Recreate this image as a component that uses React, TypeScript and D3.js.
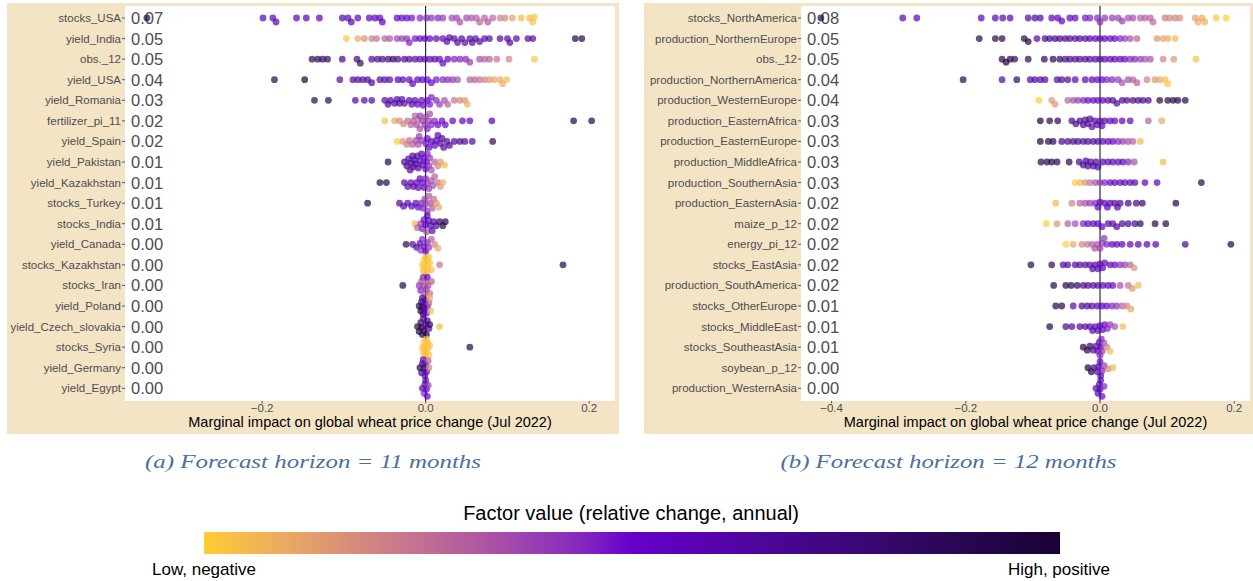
import React from "react";
import * as d3 from "d3";

type Pt = [number, number]; // [marginal impact, factor value 0..1]

const leftFeatures = ["stocks_USA","yield_India","obs._12","yield_USA","yield_Romania","fertilizer_pi_11","yield_Spain","yield_Pakistan","yield_Kazakhstan","stocks_Turkey","stocks_India","yield_Canada","stocks_Kazakhstan","stocks_Iran","yield_Poland","yield_Czech_slovakia","stocks_Syria","yield_Germany","yield_Egypt"];
const leftImportance = ["0.07","0.05","0.05","0.04","0.03","0.02","0.02","0.01","0.01","0.01","0.01","0.00","0.00","0.00","0.00","0.00","0.00","0.00","0.00"];
const leftPoints: Pt[][] = [
  [[-0.341,.92],[-0.199,.57],[-0.187,.59],[-0.183,.59],[-0.158,.57],[-0.146,.57],[-0.130,.58],[-0.102,.58],[-0.095,.61],[-0.091,.62],[-0.083,.58],[-0.069,.55],[-0.062,.55],[-0.056,.55],[-0.053,.54],[-0.035,.52],[-0.029,.5],[-0.023,.5],[-0.017,.48],[-0.007,.45],[0.001,.44],[0.007,.42],[0.015,.44],[0.021,.4],[0.032,.36],[0.038,.38],[0.042,.35],[0.050,.35],[0.056,.33],[0.062,.3],[0.066,.3],[0.072,.3],[0.076,.33],[0.082,.28],[0.091,.2],[0.097,.2],[0.106,.12],[0.117,.05],[0.127,.05],[0.131,.03],[0.133,.02]],
  [[-0.097,.02],[-0.083,.1],[-0.075,.18],[-0.066,.22],[-0.060,.25],[-0.050,.3],[-0.044,.33],[-0.035,.38],[-0.029,.4],[-0.023,.42],[-0.020,.45],[-0.013,.48],[-0.007,.5],[-0.001,.52],[0.005,.53],[0.013,.55],[0.021,.57],[0.026,.6],[0.029,.61],[0.035,.62],[0.039,.63],[0.044,.65],[0.048,.63],[0.054,.61],[0.057,.63],[0.061,.65],[0.066,.62],[0.072,.6],[0.078,.62],[0.091,.6],[0.100,.58],[0.103,.64],[0.111,.6],[0.125,.62],[0.131,.62],[0.183,.92],[0.191,.92]],
  [[-0.139,.85],[-0.132,.92],[-0.126,.85],[-0.120,.85],[-0.102,.7],[-0.084,.7],[-0.080,.85],[-0.066,.65],[-0.059,.7],[-0.053,.7],[-0.046,.7],[-0.040,.85],[-0.034,.7],[-0.026,.65],[-0.020,.63],[-0.013,.62],[-0.007,.6],[-0.001,.58],[0.005,.56],[0.011,.57],[0.017,.54],[0.021,.52],[0.027,.53],[0.035,.46],[0.042,.45],[0.049,.44],[0.054,.4],[0.066,.35],[0.072,.3],[0.078,.3],[0.087,.25],[0.102,.2],[0.133,.02]],
  [[-0.185,.92],[-0.148,.97],[-0.105,.6],[-0.089,.62],[-0.083,.65],[-0.077,.62],[-0.071,.65],[-0.066,.65],[-0.056,.6],[-0.050,.58],[-0.044,.6],[-0.034,.6],[-0.028,.6],[-0.020,.57],[-0.016,.55],[-0.010,.55],[-0.004,.54],[0.002,.5],[0.007,.5],[0.013,.48],[0.021,.45],[0.027,.44],[0.033,.4],[0.039,.35],[0.054,.3],[0.060,.3],[0.066,.25],[0.072,.2],[0.078,.15],[0.084,.1],[0.091,.1],[0.094,.08],[0.099,.05]],
  [[-0.136,.92],[-0.119,.92],[-0.086,.61],[-0.075,.61],[-0.066,.65],[-0.050,.62],[-0.046,.65],[-0.043,.65],[-0.038,.65],[-0.035,.64],[-0.032,.62],[-0.029,.61],[-0.026,.62],[-0.020,.6],[-0.017,.59],[-0.013,.57],[-0.010,.55],[-0.005,.55],[-0.003,.54],[0.002,.5],[0.005,.48],[0.007,.46],[0.013,.44],[0.017,.4],[0.023,.35],[0.027,.3],[0.035,.25],[0.042,.2],[0.048,.15],[0.051,.08]],
  [[-0.050,.03],[-0.038,.1],[-0.032,.18],[-0.027,.2],[-0.022,.25],[-0.018,.3],[-0.015,.3],[-0.013,.3],[-0.011,.35],[-0.010,.25],[-0.007,.4],[-0.007,.35],[-0.004,.4],[-0.001,.4],[0.000,.35],[0.002,.45],[0.004,.4],[0.005,.35],[0.007,.45],[0.011,.45],[0.015,.5],[0.020,.5],[0.024,.5],[0.033,.55],[0.045,.55],[0.054,.55],[0.081,.61],[0.181,.92],[0.203,.92]],
  [[-0.035,.0],[-0.028,.15],[-0.023,.2],[-0.020,.25],[-0.016,.3],[-0.012,.35],[-0.009,.35],[-0.008,.4],[-0.005,.4],[0.000,.45],[0.002,.5],[0.004,.5],[0.007,.55],[0.011,.57],[0.013,.6],[0.015,.6],[0.018,.62],[0.020,.64],[0.022,.62],[0.026,.65],[0.029,.65],[0.035,.65],[0.042,.7],[0.048,.65],[0.057,.62],[0.082,.85]],
  [[-0.046,.92],[-0.026,.65],[-0.023,.7],[-0.021,.62],[-0.019,.65],[-0.018,.7],[-0.016,.65],[-0.015,.62],[-0.014,.64],[-0.012,.6],[-0.010,.6],[-0.009,.61],[-0.007,.57],[-0.005,.55],[-0.004,.55],[-0.002,.54],[0.000,.5],[0.001,.5],[0.002,.45],[0.004,.42],[0.005,.4],[0.007,.35],[0.011,.3],[0.015,.2],[0.018,.15],[0.023,.05]],
  [[-0.056,.92],[-0.048,.92],[-0.026,.6],[-0.022,.62],[-0.018,.6],[-0.015,.57],[-0.011,.55],[-0.009,.55],[-0.007,.55],[-0.004,.5],[-0.002,.5],[0.000,.45],[0.002,.42],[0.004,.4],[0.007,.35],[0.009,.35],[0.011,.3],[0.015,.25],[0.018,.15],[0.021,.08]],
  [[-0.071,.92],[-0.032,.65],[-0.027,.62],[-0.022,.57],[-0.017,.55],[-0.012,.55],[-0.009,.5],[-0.005,.45],[-0.003,.45],[-0.001,.4],[0.000,.38],[0.002,.4],[0.004,.32],[0.006,.35],[0.008,.3],[0.010,.25],[0.013,.15],[0.016,.1]],
  [[-0.013,.05],[-0.010,.3],[-0.006,.4],[-0.004,.45],[-0.002,.5],[0.000,.55],[0.001,.35],[0.002,.55],[0.004,.57],[0.006,.6],[0.008,.62],[0.010,.62],[0.013,.65],[0.017,.85],[0.021,.92],[0.024,.92]],
  [[-0.024,.92],[-0.016,.62],[-0.011,.65],[-0.007,.55],[-0.006,.4],[-0.004,.45],[-0.002,.5],[0.000,.5],[0.002,.45],[0.004,.4],[0.007,.3],[0.011,.2],[0.015,.1]],
  [[-0.004,.02],[-0.003,.02],[-0.002,.02],[-0.001,.02],[0.000,.02],[0.001,.02],[0.002,.02],[0.003,.02],[0.004,.02],[0.005,.02],[-0.002,.03],[0.002,.03],[0.000,.03],[0.007,.05],[0.017,.25],[0.168,.92]],
  [[-0.028,.92],[-0.008,.4],[-0.006,.45],[-0.005,.35],[-0.003,.45],[-0.002,.38],[-0.001,.3],[0.000,.2],[0.001,.4],[0.002,.5],[0.003,.35],[0.005,.25],[0.007,.3]],
  [[-0.008,.92],[-0.006,.97],[-0.005,.85],[-0.004,.7],[-0.004,.92],[-0.003,.85],[-0.002,.65],[-0.001,.6],[0.000,.62],[0.001,.5],[0.002,.55],[0.004,.3],[0.005,.1],[0.006,.05]],
  [[-0.010,.92],[-0.008,.97],[-0.006,.85],[-0.005,.97],[-0.004,.92],[-0.003,.7],[-0.002,.85],[0.000,.65],[0.001,.92],[0.002,.7],[0.004,.62],[0.005,.85],[0.017,.05]],
  [[-0.004,.02],[-0.003,.02],[-0.002,.02],[-0.001,.02],[-0.001,.03],[0.000,.02],[0.001,.02],[0.001,.03],[0.002,.02],[0.003,.02],[0.004,.02],[0.005,.02],[0.054,.92]],
  [[-0.007,.92],[-0.005,.7],[-0.004,.65],[-0.003,.6],[-0.002,.85],[-0.001,.5],[0.000,.62],[0.001,.55],[0.003,.3],[0.004,.2]],
  [[-0.004,.55],[-0.002,.45],[-0.001,.62],[0.000,.6],[0.001,.53],[0.002,.5],[0.003,.4]],
];

const rightFeatures = ["stocks_NorthAmerica","production_NorthernEurope","obs._12","production_NorthernAmerica","production_WesternEurope","production_EasternAfrica","production_EasternEurope","production_MiddleAfrica","production_SouthernAsia","production_EasternAsia","maize_p_12","energy_pi_12","stocks_EastAsia","production_SouthAmerica","stocks_OtherEurope","stocks_MiddleEast","stocks_SoutheastAsia","soybean_p_12","production_WesternAsia"];
const rightImportance = ["0.08","0.05","0.05","0.04","0.04","0.03","0.03","0.03","0.03","0.02","0.02","0.02","0.02","0.02","0.01","0.01","0.01","0.00","0.00"];
const rightPoints: Pt[][] = [
  [[-0.416,.92],[-0.294,.59],[-0.273,.59],[-0.177,.58],[-0.156,.58],[-0.145,.59],[-0.134,.59],[-0.107,.6],[-0.097,.62],[-0.089,.6],[-0.072,.56],[-0.063,.55],[-0.057,.55],[-0.045,.54],[-0.037,.52],[-0.022,.48],[-0.015,.46],[-0.004,.44],[0.000,.44],[0.007,.42],[0.018,.4],[0.027,.38],[0.033,.4],[0.042,.35],[0.049,.35],[0.060,.3],[0.067,.3],[0.075,.3],[0.079,.28],[0.097,.22],[0.104,.2],[0.112,.2],[0.119,.18],[0.142,.12],[0.146,.1],[0.152,.1],[0.156,.08],[0.173,.02],[0.188,0]],
  [[-0.180,.92],[-0.156,.92],[-0.146,.92],[-0.113,.92],[-0.107,.97],[-0.094,.61],[-0.082,.7],[-0.075,.7],[-0.067,.7],[-0.060,.7],[-0.052,.7],[-0.045,.66],[-0.037,.65],[-0.030,.63],[-0.022,.62],[-0.015,.6],[-0.007,.57],[0.000,.55],[0.007,.55],[0.015,.5],[0.022,.5],[0.030,.45],[0.037,.4],[0.045,.35],[0.055,.3],[0.085,.15],[0.094,.12],[0.101,.1],[0.112,.05]],
  [[-0.146,.92],[-0.140,.97],[-0.134,.92],[-0.127,.85],[-0.107,.85],[-0.083,.85],[-0.070,.92],[-0.060,.85],[-0.052,.7],[-0.045,.7],[-0.037,.65],[-0.030,.65],[-0.022,.65],[-0.015,.63],[-0.007,.62],[0.000,.62],[0.007,.6],[0.015,.57],[0.022,.55],[0.030,.55],[0.037,.5],[0.045,.45],[0.052,.45],[0.060,.4],[0.067,.35],[0.075,.35],[0.094,.2],[0.110,.15],[0.143,.03]],
  [[-0.204,.92],[-0.146,.65],[-0.124,.85],[-0.104,.6],[-0.097,.61],[-0.089,.6],[-0.082,.6],[-0.064,.62],[-0.057,.65],[-0.048,.62],[-0.037,.6],[-0.022,.55],[-0.012,.55],[-0.004,.5],[0.003,.5],[0.010,.45],[0.018,.45],[0.027,.4],[0.033,.35],[0.042,.35],[0.049,.3],[0.055,.3],[0.070,.2],[0.082,.15],[0.089,.1],[0.097,.05],[0.101,.02]],
  [[-0.091,0],[-0.072,.15],[-0.067,.15],[-0.048,.3],[-0.040,.35],[-0.033,.4],[-0.025,.45],[-0.018,.5],[-0.010,.55],[-0.003,.55],[0.004,.57],[0.012,.6],[0.019,.62],[0.025,.65],[0.033,.65],[0.040,.65],[0.049,.7],[0.057,.7],[0.064,.65],[0.072,.7],[0.089,.92],[0.101,.92],[0.109,.92],[0.116,.92],[0.127,.92]],
  [[-0.089,.97],[-0.075,.92],[-0.063,.92],[-0.042,.7],[-0.036,.7],[-0.030,.7],[-0.025,.66],[-0.022,.65],[-0.018,.65],[-0.015,.65],[-0.012,.62],[-0.008,.64],[-0.004,.62],[0.000,.6],[0.003,.61],[0.007,.6],[0.015,.57],[0.022,.55],[0.033,.55],[0.045,.55],[0.072,.3],[0.092,.1]],
  [[-0.089,.97],[-0.077,.92],[-0.070,.92],[-0.057,.7],[-0.048,.7],[-0.040,.7],[-0.033,.7],[-0.025,.65],[-0.018,.65],[-0.010,.62],[-0.003,.62],[0.004,.6],[0.012,.55],[0.019,.5],[0.027,.45],[0.034,.4],[0.042,.35],[0.049,.3],[0.060,.05]],
  [[-0.088,.92],[-0.079,.92],[-0.072,.92],[-0.064,.92],[-0.046,.92],[-0.031,.7],[-0.025,.65],[-0.021,.66],[-0.018,.65],[-0.014,.65],[-0.010,.65],[-0.006,.64],[-0.003,.65],[0.004,.62],[0.012,.6],[0.019,.57],[0.027,.55],[0.034,.55],[0.042,.45],[0.051,.35],[0.094,.05]],
  [[-0.037,0],[-0.030,.05],[-0.022,.15],[-0.015,.25],[-0.007,.35],[0.000,.4],[0.007,.45],[0.015,.5],[0.022,.55],[0.030,.55],[0.037,.57],[0.045,.6],[0.052,.62],[0.067,.59],[0.085,.59],[0.151,.92]],
  [[-0.066,.05],[-0.042,.2],[-0.030,.3],[-0.022,.35],[-0.015,.4],[-0.007,.45],[-0.003,.5],[0.000,.55],[0.007,.55],[0.011,.56],[0.015,.57],[0.022,.6],[0.026,.62],[0.030,.62],[0.042,.7],[0.054,.7],[0.063,.85],[0.113,.92]],
  [[-0.080,0],[-0.064,.15],[-0.048,.3],[-0.037,.35],[-0.025,.45],[-0.018,.5],[-0.010,.55],[-0.003,.55],[0.003,.57],[0.012,.6],[0.019,.62],[0.025,.62],[0.033,.65],[0.042,.7],[0.052,.7],[0.060,.85],[0.082,.92],[0.098,.92]],
  [[-0.051,0],[-0.040,.1],[-0.027,.2],[-0.019,.25],[-0.012,.3],[-0.008,.32],[-0.004,.35],[0.000,.38],[0.003,.4],[0.006,.42],[0.010,.45],[0.018,.5],[0.025,.55],[0.033,.55],[0.045,.57],[0.057,.6],[0.070,.61],[0.083,.61],[0.127,.7],[0.195,.92]],
  [[-0.103,.92],[-0.072,.85],[-0.055,.65],[-0.048,.65],[-0.037,.62],[-0.030,.62],[-0.022,.62],[-0.015,.6],[-0.011,.61],[-0.007,.6],[-0.003,.59],[0.000,.57],[0.004,.55],[0.007,.55],[0.015,.55],[0.022,.5],[0.030,.45],[0.037,.4],[0.045,.3],[0.051,.15]],
  [[-0.069,.92],[-0.051,.92],[-0.043,.92],[-0.034,.85],[-0.025,.7],[-0.018,.7],[-0.010,.65],[-0.003,.62],[0.004,.6],[0.012,.55],[0.019,.5],[0.030,.35],[0.042,.25],[0.048,.15],[0.057,.05]],
  [[-0.066,.92],[-0.057,.92],[-0.040,.62],[-0.027,.7],[-0.019,.65],[-0.012,.62],[-0.004,.6],[0.003,.55],[0.010,.5],[0.018,.45],[0.025,.4],[0.033,.3],[0.040,.2],[0.046,.1]],
  [[-0.075,.92],[-0.051,.7],[-0.042,.65],[-0.030,.65],[-0.022,.62],[-0.015,.6],[-0.011,.59],[-0.007,.57],[-0.003,.55],[0.000,.55],[0.004,.5],[0.007,.5],[0.011,.45],[0.015,.4],[0.022,.35],[0.034,.05]],
  [[-0.025,.97],[-0.019,.92],[-0.015,.85],[-0.010,.65],[-0.006,.6],[-0.003,.55],[-0.001,.55],[0.000,.45],[0.001,.5],[0.002,.45],[0.003,.4],[0.006,.35],[0.010,.2],[0.015,.05]],
  [[-0.018,.97],[-0.013,.92],[-0.009,.7],[-0.004,.62],[-0.002,.6],[0.000,.55],[0.001,.55],[0.003,.45],[0.006,.4],[0.012,.2],[0.019,.05]],
  [[-0.006,.65],[-0.003,.6],[-0.001,.62],[0.000,.55],[0.001,.55],[0.003,.5],[0.006,.45]],
];

const leftTicks = [-0.2, 0, 0.2];
const rightTicks = [-0.4, -0.2, 0, 0.2];
const xTitle = "Marginal impact on global wheat price change (Jul 2022)";
const captions = ["(a) Forecast horizon = 11 months", "(b) Forecast horizon = 12 months"];
const legendTitle = "Factor value (relative change, annual)";
const legendLow = "Low, negative";
const legendHigh = "High, positive";

const colour = d3
  .scaleLinear<string>()
  .domain([0, 0.5, 1])
  .range(["#FFCC33", "#6600CC", "#1A0033"])
  .interpolate(d3.interpolateLab);

function swarm(xs: number[], minDist: number, step: number, maxOff: number): number[] {
  const order = d3.range(xs.length).sort((a, b) => xs[a] - xs[b]);
  const ys = new Array(xs.length).fill(0);
  const placed: number[] = [];
  const n = Math.floor(maxOff / step);
  for (const i of order) {
    let bestOff = 0;
    let bestScore = -Infinity;
    for (let k = 0; k <= 2 * n; k++) {
      const off = k === 0 ? 0 : (k % 2 === 1 ? 1 : -1) * Math.ceil(k / 2) * step;
      let minD = Infinity;
      for (const j of placed) {
        const dx = xs[j] - xs[i];
        if (Math.abs(dx) >= minDist) continue;
        minD = Math.min(minD, Math.hypot(dx, ys[j] - off));
      }
      if (minD >= minDist) { bestOff = off; break; }
      if (minD > bestScore) { bestScore = minD; bestOff = off; }
    }
    ys[i] = bestOff;
    placed.push(i);
  }
  return ys;
}

const GREY = "#4d4d4d";
const BEIGE = "#F4E4C6";

interface PanelProps {
  features: string[];
  importance: string[];
  points: Pt[][];
  ticks: number[];
  frame: { x0: number; x1: number; y0: number; y1: number };
  plot: { x0: number; x1: number; y0: number; y1: number };
  domain: [number, number];
  caption: string;
  captionWidth: number;
}

function Panel(p: PanelProps) {
  const x = d3.scaleLinear().domain(p.domain).range([p.plot.x0, p.plot.x1]);
  const y = d3.scalePoint<string>().domain(p.features).range([18, 388.3]);
  const fmt = d3.format(".1f");
  const cx = (p.plot.x0 + p.plot.x1) / 2;
  const frameCx = (p.frame.x0 + p.frame.x1) / 2;
  return (
    <g>
      <rect x={p.frame.x0} y={p.frame.y0} width={p.frame.x1 - p.frame.x0} height={p.frame.y1 - p.frame.y0} fill={BEIGE} />
      <rect x={p.plot.x0} y={p.plot.y0} width={p.plot.x1 - p.plot.x0} height={p.plot.y1 - p.plot.y0} fill="#ffffff" />
      {p.features.map((f, i) => (
        <g key={f}>
          <text x={p.plot.x0 - 4} y={y(f)!} dy="0.35em" textAnchor="end" fontSize={11.5} fill={GREY}>{f}</text>
          <line x1={p.plot.x0 - 3} x2={p.plot.x0} y1={y(f)!} y2={y(f)!} stroke="#333" strokeWidth={0.8} />
          <text x={p.plot.x0 + 6} y={y(f)!} dy="0.36em" fontSize={16.5} fill={GREY}>{p.importance[i]}</text>
        </g>
      ))}
      <line x1={x(0)} x2={x(0)} y1={p.plot.y0} y2={p.plot.y1} stroke="#000" strokeWidth={1} />
      {p.points.map((row, i) => {
        const px = row.map((d) => x(d[0]));
        const dy = swarm(px, 4.6, 1, 8);
        return (
          <g key={i}>
            {row.map((d, j) => (
              <circle key={j} cx={px[j]} cy={y(p.features[i])! + dy[j]} r={3.4} fill={colour(d[1])} fillOpacity={0.7} />
            ))}
          </g>
        );
      })}
      {p.ticks.map((t) => (
        <g key={t}>
          <line x1={x(t)} x2={x(t)} y1={p.plot.y1} y2={p.plot.y1 + 2.5} stroke="#333" strokeWidth={0.8} />
          <text x={x(t)} y={p.plot.y1 + 11} textAnchor="middle" fontSize={11.5} fill={GREY}>{fmt(t)}</text>
        </g>
      ))}
      <text x={cx} y={427} textAnchor="middle" fontSize={14.5} fill="#000">{xTitle}</text>
      <text x={frameCx} y={468} textAnchor="middle" fontSize={19} fontStyle="italic"
        fontFamily="'Liberation Serif', 'DejaVu Serif', serif" fill="#4B6FA0"
        textLength={p.captionWidth} lengthAdjust="spacingAndGlyphs">{p.caption}</text>
    </g>
  );
}

export default function App() {
  const stops = d3.range(0, 1.0001, 0.05);
  return (
    <svg width={1253} height={581} style={{ position: "absolute", left: 0, top: 0, fontFamily: "'Liberation Sans', Arial, sans-serif" }}>
      <rect width={1253} height={581} fill="#ffffff" />
      <defs>
        <linearGradient id="cbar" x1="0" x2="1" y1="0" y2="0">
          {stops.map((s) => (
            <stop key={s} offset={s} stopColor={colour(s)} />
          ))}
        </linearGradient>
      </defs>
      <Panel features={leftFeatures} importance={leftImportance} points={leftPoints} ticks={leftTicks}
        frame={{ x0: 7, x1: 619, y0: 3, y1: 434 }} plot={{ x0: 125, x1: 615, y0: 6, y1: 401 }}
        domain={[-0.3678, 0.2316]} caption={captions[0]} captionWidth={336} />
      <Panel features={rightFeatures} importance={rightImportance} points={rightPoints} ticks={rightTicks}
        frame={{ x0: 644, x1: 1253, y0: 3, y1: 434 }} plot={{ x0: 801, x1: 1250, y0: 6, y1: 401 }}
        domain={[-0.4456, 0.2235]} caption={captions[1]} captionWidth={336} />
      <text x={631} y={520} textAnchor="middle" fontSize={20} fill="#000">{legendTitle}</text>
      <rect x={204} y={532} width={856} height={22} fill="url(#cbar)" />
      <text x={152} y={575} fontSize={17} fill="#000">{legendLow}</text>
      <text x={1110} y={575} textAnchor="end" fontSize={17} fill="#000">{legendHigh}</text>
    </svg>
  );
}
